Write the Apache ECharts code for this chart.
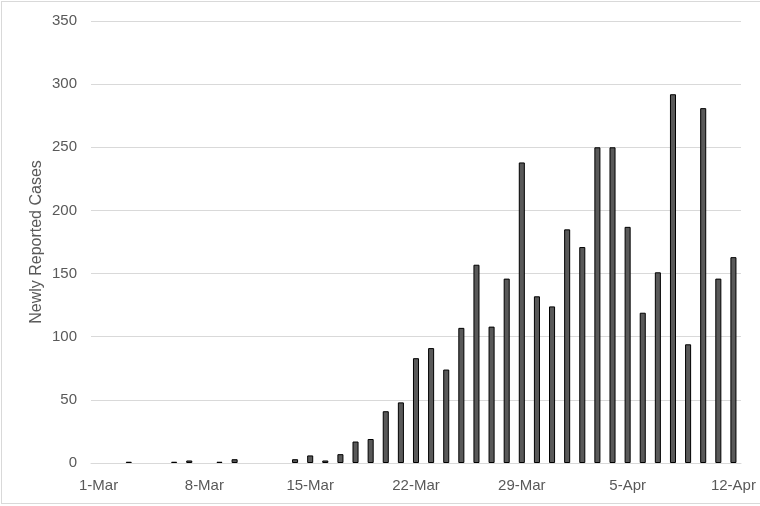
<!DOCTYPE html>
<html>
<head>
<meta charset="utf-8">
<script src="https://cdn.jsdelivr.net/npm/echarts@6/dist/echarts.min.js"></script>
<style>
html,body{margin:0;padding:0;background:#fff;}
#frame{position:absolute;left:1px;top:1px;width:800px;height:503px;border:1px solid #d9d9d9;box-sizing:border-box;}
#chart{position:absolute;left:0;top:0;width:760px;height:506px;}
</style>
</head>
<body>
<div id="frame"></div>
<div id="chart"></div>
<script>
var categories = ["1-Mar","2-Mar","3-Mar","4-Mar","5-Mar","6-Mar","7-Mar","8-Mar","9-Mar","10-Mar",
"11-Mar","12-Mar","13-Mar","14-Mar","15-Mar","16-Mar","17-Mar","18-Mar","19-Mar","20-Mar",
"21-Mar","22-Mar","23-Mar","24-Mar","25-Mar","26-Mar","27-Mar","28-Mar","29-Mar","30-Mar",
"31-Mar","1-Apr","2-Apr","3-Apr","4-Apr","5-Apr","6-Apr","7-Apr","8-Apr","9-Apr",
"10-Apr","11-Apr","12-Apr"];
var newCases = [0,0,1,0,0,1,2,0,1,3,
0,0,0,3,6,2,7,17,19,41,
48,83,91,74,107,157,108,146,238,132,
124,185,171,250,250,187,119,151,292,94,
281,146,163];
var yTicks = {min:0, max:350, interval:50};
var yTitle = "Newly Reported Cases";

var chart = echarts.init(document.getElementById('chart'), null, {renderer:'canvas'});
var font = "'Liberation Sans', Arial, sans-serif";
var barData = newCases.map(function(v){
  return v === 0 ? {value:v, itemStyle:{borderWidth:0}} : v;
});
chart.setOption({
  animation:false,
  grid:{left:91,right:19,top:21,bottom:43,containLabel:false},
  xAxis:{
    type:'category',
    data:categories,
    boundaryGap:true,
    axisLine:{show:true,lineStyle:{color:'#d9d9d9',width:1}},
    axisTick:{show:false},
    axisLabel:{interval:6,color:'#595959',fontSize:15,fontFamily:font,margin:15}
  },
  yAxis:{
    type:'value',
    min:yTicks.min,max:yTicks.max,interval:yTicks.interval,
    name:yTitle,nameLocation:'middle',nameGap:46,nameRotate:90,
    nameMoveOverlap:false,
    nameTextStyle:{color:'#595959',fontSize:16,fontFamily:font},
    axisLine:{show:false},
    axisTick:{show:false},
    axisLabel:{color:'#595959',fontSize:15,fontFamily:font,margin:14},
    splitLine:{lineStyle:{color:'#d9d9d9',width:1}}
  },
  series:[{
    type:'bar',
    data:barData,
    barWidth:'40%',
    itemStyle:{color:'#595959',borderColor:'#000',borderWidth:1}
  }]
});
</script>
</body>
</html>
